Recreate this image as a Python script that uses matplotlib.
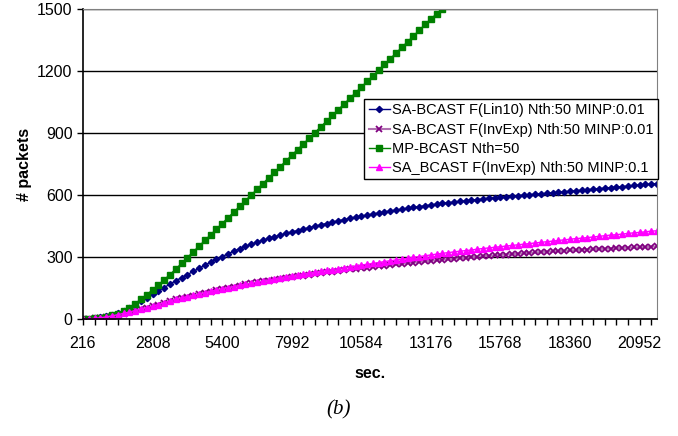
import matplotlib
matplotlib.use('Agg')
import matplotlib.pyplot as plt
import numpy as np

plt.rcParams['font.family'] = ['Liberation Sans', 'DejaVu Sans']

# time in seconds: one sample every 216 s
step = 216
n_points = 100

lin10_001 = [0, 2, 5, 9, 14, 20, 28, 40, 53, 70,
             86, 103, 120, 136, 152, 169, 185, 200, 215, 230,
             245, 260, 275, 289, 302, 315, 328, 340, 352, 362,
             372, 381, 390, 398, 406, 414, 421, 428, 435, 442,
             449, 456, 462, 469, 475, 481, 487, 493, 498, 503,
             508, 513, 518, 523, 527, 532, 536, 540, 544, 548,
             552, 556, 560, 563, 566, 569, 572, 575, 578, 581,
             584, 587, 589, 592, 594, 597, 599, 602, 604, 606,
             608, 611, 613, 616, 618, 621, 623, 626, 628, 631,
             633, 636, 638, 641, 643, 646, 648, 651, 653, 655]

invexp_001 = [0, 1, 3, 6, 10, 15, 20, 26, 33, 40,
              47, 54, 61, 69, 78, 86, 95, 101, 107, 113,
              120, 126, 133, 139, 145, 151, 156, 162, 167, 172,
              177, 182, 186, 191, 195, 199, 203, 207, 210, 214,
              218, 222, 226, 229, 233, 236, 240, 243, 246, 249,
              252, 255, 258, 261, 264, 267, 270, 273, 276, 279,
              282, 284, 287, 289, 292, 294, 297, 299, 302, 304,
              306, 308, 310, 312, 314, 316, 318, 320, 322, 324,
              326, 327, 329, 330, 332, 333, 335, 336, 338, 339,
              340, 341, 343, 344, 345, 346, 347, 348, 350, 351]

mp_bcast = [0, 1, 3, 6, 11, 17, 26, 38, 55, 75,
            95, 118, 141, 165, 190, 215, 242, 269, 297, 325,
            352, 380, 407, 435, 462, 490, 517, 545, 572, 600,
            627, 655, 682, 710, 737, 765, 792, 820, 847, 875,
            902, 930, 957, 985, 1012, 1040, 1067, 1095, 1122, 1150,
            1177, 1205, 1232, 1260, 1287, 1315, 1342, 1370, 1397, 1425,
            1452, 1477, 1500]

invexp_01 = [0, 1, 3, 6, 10, 15, 21, 27, 34, 41,
             48, 55, 62, 70, 79, 87, 96, 102, 108, 114,
             121, 127, 134, 140, 146, 152, 157, 163, 168, 173,
             178, 183, 188, 194, 200, 205, 209, 214, 218, 222,
             226, 231, 235, 239, 244, 248, 252, 256, 261, 265,
             269, 273, 278, 282, 286, 290, 294, 298, 302, 306,
             310, 314, 318, 321, 325, 328, 331, 334, 338, 341,
             344, 347, 350, 353, 356, 359, 362, 365, 368, 371,
             374, 377, 380, 383, 386, 389, 391, 394, 397, 400,
             403, 406, 408, 411, 414, 417, 419, 422, 425, 427]

labels = ['SA-BCAST F(Lin10) Nth:50 MINP:0.01',
          'SA-BCAST F(InvExp) Nth:50 MINP:0.01',
          'MP-BCAST Nth=50',
          'SA_BCAST F(InvExp) Nth:50 MINP:0.1']

t = step * np.arange(1, n_points + 1)

W, H = 678, 436
fig = plt.figure(figsize=(W / 100, H / 100), dpi=100)
ax = fig.add_axes([83 / W, 1 - 319 / H, (657 - 83) / W, (319 - 9) / H])

ax.plot(t, lin10_001, color='#000080', lw=1, marker='D', ms=3.2,
        label=labels[0])
ax.plot(t, invexp_001, color='#b070b0', lw=1.5, marker='x', ms=3.8,
        mec='#800080', mew=1.3, label=labels[1])
ax.plot(t[:len(mp_bcast)], mp_bcast, color='#008000', lw=1, marker='s',
        ms=4.3, label=labels[2])
ax.plot(t, invexp_01, color='#ff00ff', lw=1, marker='^', ms=4.5,
        label=labels[3])

ax.set_xlim(t[0], t[-1])
ax.set_ylim(0, 1500)
ax.set_yticks(np.arange(0, 1501, 300))
ax.set_xticks(t[0] + 2592 * np.arange(9))
ax.set_xticks(t[::2], minor=True)
ax.tick_params(axis='both', labelsize=11.5, direction='out', length=4,
               width=1, color='black')
ax.tick_params(axis='x', which='minor', length=4, width=1)
ax.tick_params(axis='x', pad=8)

ax.grid(axis='y', color='black', lw=1)
ax.set_axisbelow(True)
for side in ['top', 'right']:
    ax.spines[side].set_color('#808080')
for side in ['left', 'bottom']:
    ax.spines[side].set_color('black')
    ax.spines[side].set_linewidth(1.2)

ax.set_xlabel('sec.', fontsize=11.5, fontweight='bold', labelpad=11)
ax.set_ylabel('# packets', fontsize=11.5, fontweight='bold', labelpad=4)

leg = ax.legend(loc='upper right', bbox_to_anchor=(658 / W, 1 - 99 / H),
                bbox_transform=fig.transFigure, fontsize=10.5,
                frameon=True, fancybox=False, framealpha=1,
                handlelength=1.45, handletextpad=0.15, borderpad=0.3,
                labelspacing=0.36, borderaxespad=0)
leg.get_frame().set_edgecolor('black')
leg.get_frame().set_linewidth(1)

fig.text(339 / W, 1 - 410 / H, '(b)', fontsize=15, style='italic',
         family='Liberation Serif', ha='center', va='center')

fig.savefig('out.png', dpi=100)
